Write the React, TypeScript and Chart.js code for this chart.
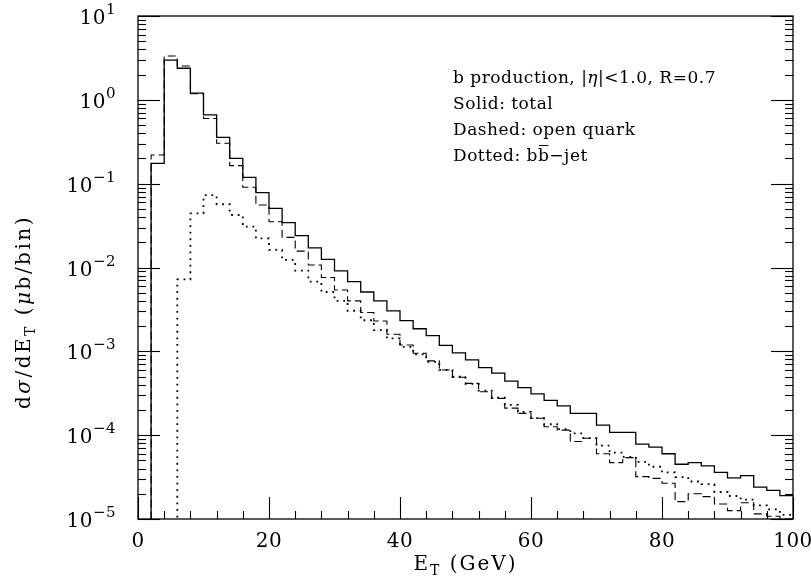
import React, { useEffect, useRef } from 'react';
import { Chart, registerables } from 'chart.js';

Chart.register(...registerables);

// ---- data (bin width 2 GeV, values per bin starting at the given left edge) ----
const BIN_WIDTH = 2;
const X_MAX = 100;
const totalStart = 2;
const totalValues = [
  0.175, 2.98, 2.38, 1.2, 0.66, 0.357, 0.2, 0.119, 0.078, 0.0508,
  0.0343, 0.024, 0.0171, 0.0125, 0.0091, 0.0068, 0.0051, 0.004, 0.00303, 0.00232,
  0.00186, 0.00154, 0.00118, 0.00096, 0.00079, 0.00064, 0.00055, 0.00044, 0.00037, 0.00031,
  0.00026, 0.000223, 0.000182, 0.000182, 0.000132, 0.000108, 0.000108, 7.8e-5, 7.2e-5, 6.0e-5,
  4.5e-5, 4.7e-5, 4.3e-5, 3.6e-5, 3.1e-5, 3.3e-5, 2.4e-5, 2.2e-5, 1.9e-5,
];
const openStart = 2;
const openQuarkValues = [
  0.22, 3.33, 2.53, 1.18, 0.6, 0.303, 0.164, 0.0905, 0.0556, 0.0352,
  0.0229, 0.0157, 0.0107, 0.0076, 0.0054, 0.004, 0.0029, 0.0023, 0.0016, 0.00119,
  0.00095, 0.00077, 0.0006, 0.00049, 0.000415, 0.00033, 0.000275, 0.00021, 0.000182, 0.000159,
  0.000126, 0.000115, 8.4e-5, 9.2e-5, 6.0e-5, 4.7e-5, 5.4e-5, 3.2e-5, 3.05e-5, 2.67e-5,
  1.61e-5, 2.0e-5, 1.85e-5, 1.51e-5, 1.26e-5, 1.56e-5, 1.15e-5, 1.08e-5, 1.0e-5,
];
const bbJetStart = 6;
const bbJetValues = [
  0.0072, 0.0443, 0.073, 0.0568, 0.0423, 0.0307, 0.0223, 0.0162, 0.0123, 0.0092,
  0.0068, 0.0051, 0.004, 0.00305, 0.00235, 0.00179, 0.00143, 0.00113, 0.00092, 0.00075,
  0.0006, 0.0005, 0.00041, 0.00034, 0.00028, 0.00023, 0.00019, 0.00016, 0.000135, 0.000118,
  0.000105, 9.2e-5, 7.5e-5, 6.2e-5, 5.5e-5, 4.8e-5, 4.2e-5, 3.6e-5, 3.15e-5, 2.8e-5,
  2.6e-5, 2.1e-5, 1.88e-5, 1.7e-5, 1.45e-5, 1.3e-5, 1.12e-5,
];
const Y_MIN = 1e-5;
const Y_MAX = 10;
const yTickExponents = [-5, -4, -3, -2, -1, 0, 1];
const xTickLabels = [0, 20, 40, 60, 80, 100];
const xMinorStep = 4;

const SERIF = '"DejaVu Serif", serif';

// histogram -> stepped points (left edges), starting from below the axis
function histPoints(start: number, vals: number[]) {
  const pts: { x: number; y: number }[] = [{ x: 0, y: 1e-9 }];
  vals.forEach((v, i) => pts.push({ x: start + i * BIN_WIDTH, y: v }));
  pts.push({ x: X_MAX, y: vals[vals.length - 1] });
  return pts;
}

type Seg = { t: string; f: string; dy?: number; over?: number };
function drawRich(
  ctx: CanvasRenderingContext2D, x: number, y: number, segs: Seg[],
  align: 'left' | 'center' | 'right', spacing = 0,
) {
  const c: any = ctx;
  const prevLS = c.letterSpacing;
  c.letterSpacing = spacing + 'px';
  let total = 0;
  const ws = segs.map((s) => {
    ctx.font = s.f;
    const w = ctx.measureText(s.t).width;
    total += w;
    return w;
  });
  let cx = align === 'left' ? x : align === 'center' ? x - total / 2 : x - total;
  ctx.textAlign = 'left';
  ctx.textBaseline = 'alphabetic';
  segs.forEach((s, i) => {
    ctx.font = s.f;
    ctx.fillText(s.t, cx, y + (s.dy || 0));
    if (s.over) {
      ctx.save();
      ctx.lineWidth = 1;
      ctx.beginPath();
      ctx.moveTo(cx + 1, y - s.over);
      ctx.lineTo(cx + ws[i] - spacing - 0.5, y - s.over);
      ctx.stroke();
      ctx.restore();
    }
    cx += ws[i];
  });
  if (prevLS !== undefined) c.letterSpacing = prevLS;
}

const framePlugin = {
  id: 'frameTicksLabels',
  afterDatasetsDraw(chart: any) {
    const { ctx, chartArea: a, scales } = chart;
    const xs = scales.x;
    const ys = scales.y;
    ctx.save();
    ctx.strokeStyle = '#000';
    ctx.fillStyle = '#000';
    ctx.lineWidth = 1.3;
    ctx.strokeRect(a.left, a.top, a.right - a.left, a.bottom - a.top);
    ctx.lineWidth = 1.1;
    const seg = (x1: number, y1: number, x2: number, y2: number) => {
      ctx.beginPath();
      ctx.moveTo(x1, y1);
      ctx.lineTo(x2, y2);
      ctx.stroke();
    };
    // y ticks (both sides, inward)
    yTickExponents.forEach((e) => {
      for (let m = 1; m <= 9; m++) {
        if (e === yTickExponents[yTickExponents.length - 1] && m > 1) break;
        const py = Math.round(ys.getPixelForValue(m * Math.pow(10, e))) + 0.5;
        const len = m === 1 ? 22 : 8;
        seg(a.left, py, a.left + len, py);
        seg(a.right, py, a.right - len, py);
      }
    });
    // x ticks (bottom, inward)
    for (let v = 0; v <= X_MAX; v += xMinorStep) {
      const px = Math.round(xs.getPixelForValue(v)) + 0.5;
      const len = v % 20 === 0 ? 22 : 8;
      seg(px, a.bottom, px, a.bottom - len);
    }
    // y tick labels 10^n
    yTickExponents.forEach((e) => {
      const py = ys.getPixelForValue(Math.pow(10, e));
      const expTxt = e < 0 ? '\u2212' + Math.abs(e) : String(e);
      drawRich(ctx, 116, py + 8, [
        { t: '10', f: `20px ${SERIF}` },
        { t: expTxt, f: `15px ${SERIF}`, dy: -10 },
      ], 'right', 0.5);
    });
    // x tick labels
    xTickLabels.forEach((v) => {
      drawRich(ctx, xs.getPixelForValue(v), 547, [{ t: String(v), f: `20px ${SERIF}` }], 'center', 0.5);
    });
    // x title
    drawRich(ctx, (a.left + a.right) / 2, 570, [
      { t: 'E', f: `20px ${SERIF}` },
      { t: 'T', f: `14px ${SERIF}`, dy: 5 },
      { t: ' (GeV)', f: `20px ${SERIF}` },
    ], 'center', 2);
    // y title (rotated)
    ctx.save();
    ctx.translate(30, 312);
    ctx.rotate(-Math.PI / 2);
    drawRich(ctx, 0, 0, [
      { t: 'd', f: `20px ${SERIF}` },
      { t: '\u03c3', f: `italic 20px ${SERIF}` },
      { t: '/dE', f: `20px ${SERIF}` },
      { t: 'T', f: `14px ${SERIF}`, dy: 5 },
      { t: ' (', f: `20px ${SERIF}` },
      { t: '\u03bc', f: `italic 20px ${SERIF}` },
      { t: 'b/bin)', f: `20px ${SERIF}` },
    ], 'center', 2.5);
    ctx.restore();
    // annotation
    const ax = 453;
    const f = `17px ${SERIF}`;
    const asp = 0.5;
    drawRich(ctx, ax, 83, [
      { t: 'b production, |', f },
      { t: '\u03b7', f: `italic 17px ${SERIF}` },
      { t: '|<1.0, R=0.7', f },
    ], 'left', asp);
    drawRich(ctx, ax, 109, [{ t: 'Solid: total', f }], 'left', asp);
    drawRich(ctx, ax, 135, [{ t: 'Dashed: open quark', f }], 'left', asp);
    drawRich(ctx, ax, 161, [
      { t: 'Dotted: b', f },
      { t: 'b', f, over: 15.5 },
      { t: '\u2212jet', f },
    ], 'left', asp);
    ctx.restore();
  },
};

export default function App() {
  const ref = useRef<HTMLCanvasElement | null>(null);
  useEffect(() => {
    if (!ref.current) return;
    const chart = new Chart(ref.current, {
      type: 'line',
      data: {
        datasets: [
          {
            label: 'total',
            data: histPoints(totalStart, totalValues),
            stepped: 'before',
            borderColor: '#000',
            borderWidth: 1.3,
            pointRadius: 0,
            fill: false,
          },
          {
            label: 'open quark',
            data: histPoints(openStart, openQuarkValues),
            stepped: 'before',
            borderColor: '#000',
            borderWidth: 1.1,
            borderDash: [8, 4],
            pointRadius: 0,
            fill: false,
          },
          {
            label: 'bb-jet',
            data: histPoints(bbJetStart, bbJetValues),
            stepped: 'before',
            borderColor: '#000',
            borderWidth: 1.8,
            borderDash: [1.8, 4.8],
            pointRadius: 0,
            fill: false,
          },
        ],
      } as any,
      options: {
        animation: false,
        responsive: false,
        events: [],
        layout: { padding: { top: 16, right: 18, left: 0, bottom: 0 } },
        plugins: { legend: { display: false }, tooltip: { enabled: false }, title: { display: false } },
        scales: {
          x: {
            type: 'linear',
            min: 0,
            max: X_MAX,
            grid: { display: false },
            border: { display: false },
            ticks: { display: false },
            afterFit: (s: any) => { s.height = 57; },
          },
          y: {
            type: 'logarithmic',
            min: Y_MIN,
            max: Y_MAX,
            grid: { display: false },
            border: { display: false },
            ticks: { display: false },
            afterFit: (s: any) => { s.width = 138; },
          },
        },
      } as any,
      plugins: [framePlugin],
    });
    return () => chart.destroy();
  }, []);
  return (
    <div style={{ position: 'absolute', left: 0, top: 0, width: 811, height: 576, background: '#fff' }}>
      <canvas ref={ref} width={811} height={576} style={{ display: 'block' }} />
    </div>
  );
}
